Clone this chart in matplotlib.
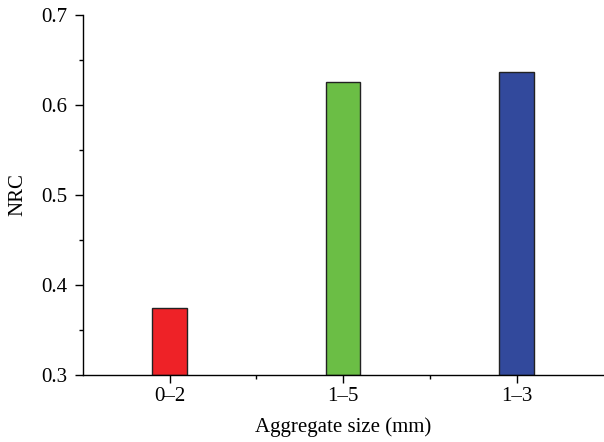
import matplotlib
matplotlib.use('Agg')
import matplotlib.pyplot as plt
import numpy as np

categories = ['0\u20132', '1\u20135', '1\u20133']
nrc = [0.374, 0.625, 0.637]
colors = ['#ee2227', '#6bbe45', '#32499c']

plt.rcParams['font.family'] = ['Liberation Serif', 'DejaVu Serif']

fig, ax = plt.subplots(figsize=(6.04, 4.42), dpi=100)
plt.subplots_adjust(left=0.137, right=0.999, top=0.966, bottom=0.152)

x = np.arange(len(categories))
ax.bar(x, np.array(nrc) - 0.3, bottom=0.3, width=0.2, color=colors,
       edgecolor='#222222', linewidth=1.0)

ax.set_xlim(-0.5, 2.5)
ax.set_ylim(0.3, 0.7)
ax.set_xticks(x)
ax.set_xticklabels(categories)
ax.set_xticks([0.5, 1.5], minor=True)
ax.set_yticks([0.3, 0.4, 0.5, 0.6, 0.7])
ax.set_yticklabels(['0.3', '0.4', '0.5', '0.6', '0.7'])
ax.set_yticks([0.35, 0.45, 0.55, 0.65], minor=True)

for s in ['top', 'right']:
    ax.spines[s].set_visible(False)
for s in ['left', 'bottom']:
    ax.spines[s].set_linewidth(1.0)

ax.tick_params(axis='both', which='major', length=6, width=1.0, labelsize=15, direction='out')
ax.tick_params(axis='y', which='major', pad=5)
ax.tick_params(axis='x', which='major', pad=3)
ax.tick_params(axis='both', which='minor', length=3, width=1.0, direction='out')

ax.set_xlabel('Aggregate size (mm)', fontsize=15, labelpad=8)
ax.set_ylabel('NRC', fontsize=15, labelpad=10)

fig.savefig('out.png', dpi=100)
